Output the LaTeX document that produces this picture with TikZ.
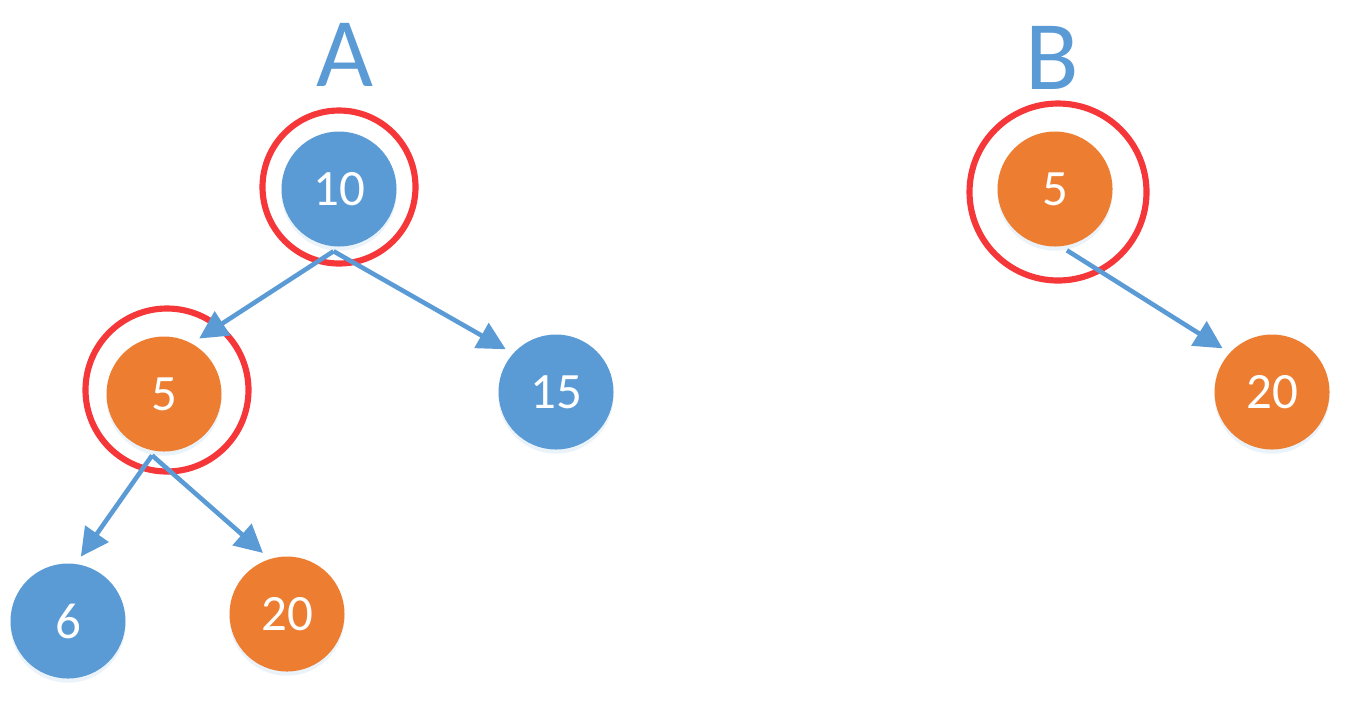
\documentclass[tikz,border=0pt]{standalone}
\usepackage{fontspec}
\setmainfont{Carlito}
\usetikzlibrary{arrows.meta,shadows}
\definecolor{nodeblue}{RGB}{91,155,213}
\definecolor{nodeorange}{RGB}{237,125,49}
\definecolor{ringred}{RGB}{245,55,58}
\begin{document}
\begin{tikzpicture}[shorten >=1pt, >={Triangle[length=0.28cm,width=0.28cm]}, line width=1.3pt,
main node/.style={circle,minimum size=1.15cm,inner sep=0pt,outer sep=0.05cm,text=white,font=\fontsize{14.5}{16}\selectfont,drop shadow={shadow xshift=0pt,shadow yshift=-1.2pt,fill=nodeblue!40,opacity=.3}},
blue node/.style={main node,fill=nodeblue},
orange node/.style={main node,fill=nodeorange},
ring/.style={circle,draw=ringred,line width=1.75pt,inner sep=0pt},
tree label/.style={text=nodeblue,font=\fontsize{28}{30}\selectfont}]
\useasboundingbox (0,0) rectangle (13.46,7.03);
% tree A
\node[tree label] (la) at (3.45,6.48) {A};
\node[blue node] (v1) at (3.39,5.14) {10};
\node[orange node] (v2) at (1.64,3.09) {5};
\node[blue node] (v3) at (5.56,3.11) {15};
\node[blue node] (v4) at (0.68,0.82) {6};
\node[orange node] (v5) at (2.87,0.89) {20};
% tree B
\node[tree label] (lb) at (10.52,6.45) {B};
\node[orange node] (w1) at (10.55,5.14) {5};
\node[orange node] (w2) at (12.72,3.11) {20};
% red rings
\node[ring,minimum size=1.53cm] (r1) at (3.39,5.16) {};
\node[ring,minimum size=1.63cm] (r2) at (1.67,3.13) {};
\node[ring,minimum size=1.77cm] (r3) at (10.58,5.11) {};
\begin{scope}[nodeblue]
\draw [->] (v1.-95) -- (v2.59);
\draw [->] (v1.-95) -- (v3.139);
\draw [->] (v2.-101) -- (v4.80);
\draw [->] (v2.-101) -- (v5.110);
\draw [->] (w1.-79) -- (w2.138);
\end{scope}
\end{tikzpicture}
\end{document}
